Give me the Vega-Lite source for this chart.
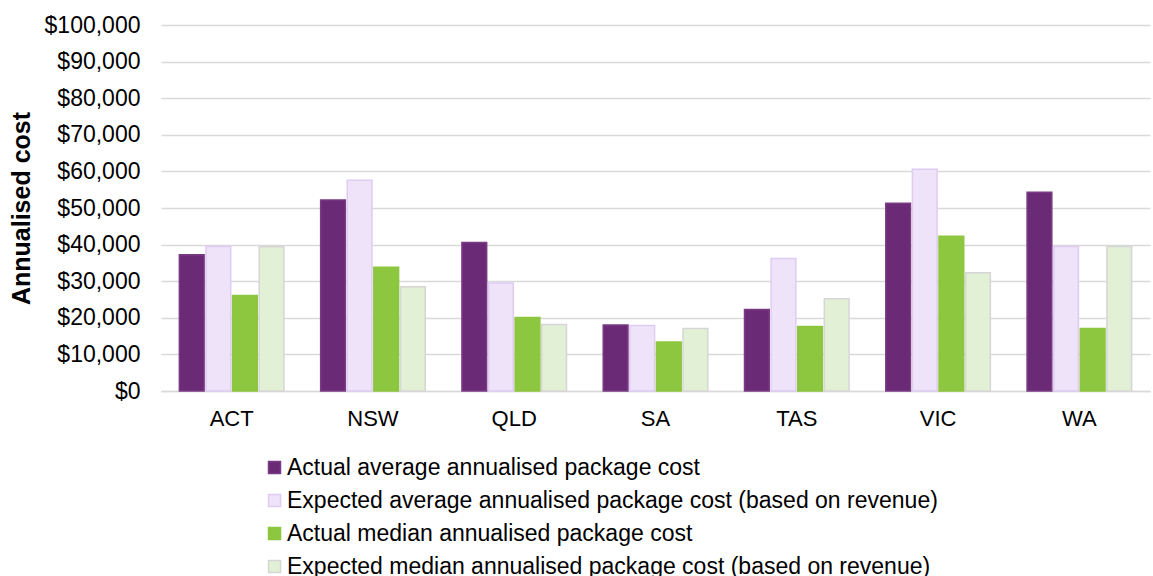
{
  "$schema": "https://vega.github.io/schema/vega-lite/v6.json",
  "width": 989,
  "height": 366,
  "autosize": {"type": "none"},
  "padding": {"left": 161, "top": 25, "right": 3, "bottom": 185},
  "background": "white",
  "config": {
    "view": {"stroke": null},
    "font": "Liberation Sans",
    "axis": {"labelFont": "Liberation Sans", "titleFont": "Liberation Sans"},
    "legend": {"labelFont": "Liberation Sans"}
  },
  "data": {
    "values": [
      {"state": "ACT", "series": "Actual average annualised package cost", "value": 37200},
      {"state": "ACT", "series": "Expected average annualised package cost (based on revenue)", "value": 39500},
      {"state": "ACT", "series": "Actual median annualised package cost", "value": 26100},
      {"state": "ACT", "series": "Expected median annualised package cost (based on revenue)", "value": 39400},
      {"state": "NSW", "series": "Actual average annualised package cost", "value": 52200},
      {"state": "NSW", "series": "Expected average annualised package cost (based on revenue)", "value": 57600},
      {"state": "NSW", "series": "Actual median annualised package cost", "value": 33800},
      {"state": "NSW", "series": "Expected median annualised package cost (based on revenue)", "value": 28500},
      {"state": "QLD", "series": "Actual average annualised package cost", "value": 40600},
      {"state": "QLD", "series": "Expected average annualised package cost (based on revenue)", "value": 29500},
      {"state": "QLD", "series": "Actual median annualised package cost", "value": 20100},
      {"state": "QLD", "series": "Expected median annualised package cost (based on revenue)", "value": 18200},
      {"state": "SA", "series": "Actual average annualised package cost", "value": 18000},
      {"state": "SA", "series": "Expected average annualised package cost (based on revenue)", "value": 17900},
      {"state": "SA", "series": "Actual median annualised package cost", "value": 13400},
      {"state": "SA", "series": "Expected median annualised package cost (based on revenue)", "value": 17100},
      {"state": "TAS", "series": "Actual average annualised package cost", "value": 22300},
      {"state": "TAS", "series": "Expected average annualised package cost (based on revenue)", "value": 36200},
      {"state": "TAS", "series": "Actual median annualised package cost", "value": 17600},
      {"state": "TAS", "series": "Expected median annualised package cost (based on revenue)", "value": 25200},
      {"state": "VIC", "series": "Actual average annualised package cost", "value": 51300},
      {"state": "VIC", "series": "Expected average annualised package cost (based on revenue)", "value": 60600},
      {"state": "VIC", "series": "Actual median annualised package cost", "value": 42300},
      {"state": "VIC", "series": "Expected median annualised package cost (based on revenue)", "value": 32300},
      {"state": "WA", "series": "Actual average annualised package cost", "value": 54300},
      {"state": "WA", "series": "Expected average annualised package cost (based on revenue)", "value": 39500},
      {"state": "WA", "series": "Actual median annualised package cost", "value": 17100},
      {"state": "WA", "series": "Expected median annualised package cost (based on revenue)", "value": 39500}
    ]
  },
  "mark": {"type": "bar", "strokeWidth": 1.5},
  "encoding": {
    "x": {
      "field": "state",
      "type": "nominal",
      "sort": null,
      "scale": {"paddingInner": 0.26, "paddingOuter": 0.13},
      "axis": {
        "title": null,
        "labelAngle": 0,
        "labelFontSize": 22,
        "labelColor": "#000000",
        "labelPadding": 17,
        "ticks": false,
        "domainColor": "#d9d9d9",
        "domainWidth": 1.5
      }
    },
    "xOffset": {
      "field": "series",
      "type": "nominal",
      "sort": null,
      "scale": {"paddingInner": 0.07, "paddingOuter": 0}
    },
    "y": {
      "field": "value",
      "type": "quantitative",
      "scale": {"domain": [0, 100000], "nice": false},
      "axis": {
        "title": "Annualised  cost",
        "titleFontSize": 25,
        "titleFontWeight": "bold",
        "titleColor": "#000000",
        "titlePadding": 10,
        "values": [0, 10000, 20000, 30000, 40000, 50000, 60000, 70000, 80000, 90000, 100000],
        "format": "$,.0f",
        "labelFontSize": 23,
        "labelColor": "#000000",
        "labelPadding": 21,
        "ticks": false,
        "domain": false,
        "grid": true,
        "gridColor": "#d9d9d9",
        "gridWidth": 1.5
      }
    },
    "color": {
      "field": "series",
      "type": "nominal",
      "sort": null,
      "scale": {
        "domain": [
          "Actual average annualised package cost",
          "Expected average annualised package cost (based on revenue)",
          "Actual median annualised package cost",
          "Expected median annualised package cost (based on revenue)"
        ],
        "range": ["#6b2a75", "#eee3f8", "#8dc63f", "#e2f0d6"]
      },
      "legend": {
        "title": null,
        "orient": "none",
        "legendX": 102,
        "legendY": 431,
        "direction": "vertical",
        "symbolType": "square",
        "symbolSize": 144,
        "symbolStrokeWidth": 1.5,
        "labelFontSize": 23,
        "labelColor": "#000000",
        "labelOffset": 1,
        "rowPadding": 9,
        "padding": 0,
        "labelLimit": 1000
      }
    },
    "stroke": {
      "field": "series",
      "type": "nominal",
      "sort": null,
      "scale": {
        "domain": [
          "Actual average annualised package cost",
          "Expected average annualised package cost (based on revenue)",
          "Actual median annualised package cost",
          "Expected median annualised package cost (based on revenue)"
        ],
        "range": ["#7a3a84", "#e0cbf3", "#8dc63f", "#d6d6d6"]
      },
      "legend": null
    }
  }
}
